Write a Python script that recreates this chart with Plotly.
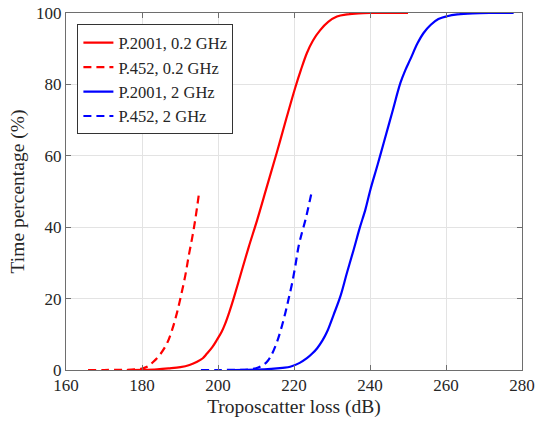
import plotly.graph_objects as go

# P.2001, 0.2 GHz
x_p2001_02 = [176, 180, 184, 187, 190.1, 192.5, 194.5, 196, 197.1, 198.5, 199.7, 201, 201.9, 203, 204.1, 206.3, 208.1, 210.3, 212.9, 215.5, 218, 220.3, 221.8, 223.4, 225, 226.9, 229, 231.3, 234, 237, 240, 245, 250]
y_p2001_02 = [0, 0.05, 0.2, 0.45, 0.8, 1.4, 2.3, 3.3, 4.6, 6.4, 8.4, 10.8, 13, 16.3, 20, 28, 34.5, 42, 51.5, 61, 70.5, 79, 84, 88.8, 92.3, 95.2, 97.5, 99, 99.6, 99.9, 100, 100, 100]

# P.452, 0.2 GHz
x_p452_02 = [165.8, 170, 175, 178, 180, 181.5, 183, 184.8, 186.6, 188, 189.2, 190.3, 191.4, 192.3, 193.2, 194, 195]
y_p452_02 = [0, 0, 0.05, 0.15, 0.4, 1.0, 2.3, 4.4, 7.5, 11.5, 16, 21, 26.5, 32, 37, 42, 49.5]

# P.2001, 2 GHz
x_p2001_2 = [204, 210, 214, 217, 219, 221.5, 223.4, 224.8, 226.1, 227.5, 228.7, 230.4, 232.2, 233.9, 235.7, 237.3, 238.8, 240.1, 242, 243.6, 245.8, 248, 249.3, 250.6, 252.5, 254.1, 256, 258, 260.3, 263, 267, 272, 277.8]
y_p2001_2 = [0, 0.1, 0.3, 0.6, 0.9, 2.0, 3.3, 4.6, 6.1, 8.3, 10.7, 15.4, 20.6, 27.1, 33.7, 39.8, 45, 50.5, 57.5, 63.6, 72, 80.4, 84, 87, 91.5, 94.4, 96.7, 98.3, 99.1, 99.6, 99.9, 100, 100]

# P.452, 2 GHz
x_p452_2 = [195.5, 200, 205, 208, 210, 211.5, 212.9, 214.2, 215.5, 216.6, 217.7, 218.6, 219.5, 220.4, 221.2, 222.1, 223, 224.6]
y_p452_2 = [0, 0, 0.05, 0.15, 0.5, 1.2, 2.3, 4.5, 7.8, 11.5, 15.9, 20, 24.3, 29.5, 34.6, 38.5, 42, 49.6]

x_ticks = [160, 180, 200, 220, 240, 260, 280]
y_ticks = [0, 20, 40, 60, 80, 100]

FONT = "Liberation Serif, Times New Roman, serif"
TXT = "#262626"

fig = go.Figure()
fig.add_trace(go.Scatter(x=x_p2001_02, y=y_p2001_02, mode="lines", name="P.2001, 0.2 GHz",
                         line=dict(color="#ff0000", width=2.2, shape="spline", smoothing=1.0)))
fig.add_trace(go.Scatter(x=x_p452_02, y=y_p452_02, mode="lines", name="P.452, 0.2 GHz",
                         line=dict(color="#ff0000", width=2.2, dash="8px,5px", shape="spline", smoothing=1.0)))
fig.add_trace(go.Scatter(x=x_p2001_2, y=y_p2001_2, mode="lines", name="P.2001, 2 GHz",
                         line=dict(color="#0000ff", width=2.2, shape="spline", smoothing=1.0)))
fig.add_trace(go.Scatter(x=x_p452_2, y=y_p452_2, mode="lines", name="P.452, 2 GHz",
                         line=dict(color="#0000ff", width=2.2, dash="8px,5px", shape="spline", smoothing=1.0)))

axis_common = dict(
    showline=True, mirror="ticks", linecolor="#6e6e6e", linewidth=1,
    ticks="inside", ticklen=5, tickcolor="#6e6e6e", tickwidth=1,
    showgrid=True, gridcolor="#e3e3e3", gridwidth=1, zeroline=False,
    automargin=False,
    tickfont=dict(family=FONT, size=17, color=TXT),
)

fig.update_layout(
    width=536, height=425,
    margin=dict(l=66, r=14, t=13, b=55),
    paper_bgcolor="white", plot_bgcolor="white",
    font=dict(family=FONT, color=TXT),
    xaxis=dict(range=[160, 280], tickvals=x_ticks, **axis_common,
               title=dict(text="Troposcatter loss (dB)", font=dict(family=FONT, size=19.5, color=TXT), standoff=4)),
    yaxis=dict(range=[0, 100], tickvals=y_ticks, **axis_common,
               title=dict(text="Time percentage (%)", font=dict(family=FONT, size=19.5, color=TXT), standoff=6)),
    legend=dict(x=0.025, y=0.968, xanchor="left", yanchor="top",
                bgcolor="white", bordercolor="#333333", borderwidth=1,
                font=dict(family=FONT, size=16.5, color=TXT),
                tracegroupgap=0, itemwidth=30),
    showlegend=True,
)

fig.write_html("out.html")
